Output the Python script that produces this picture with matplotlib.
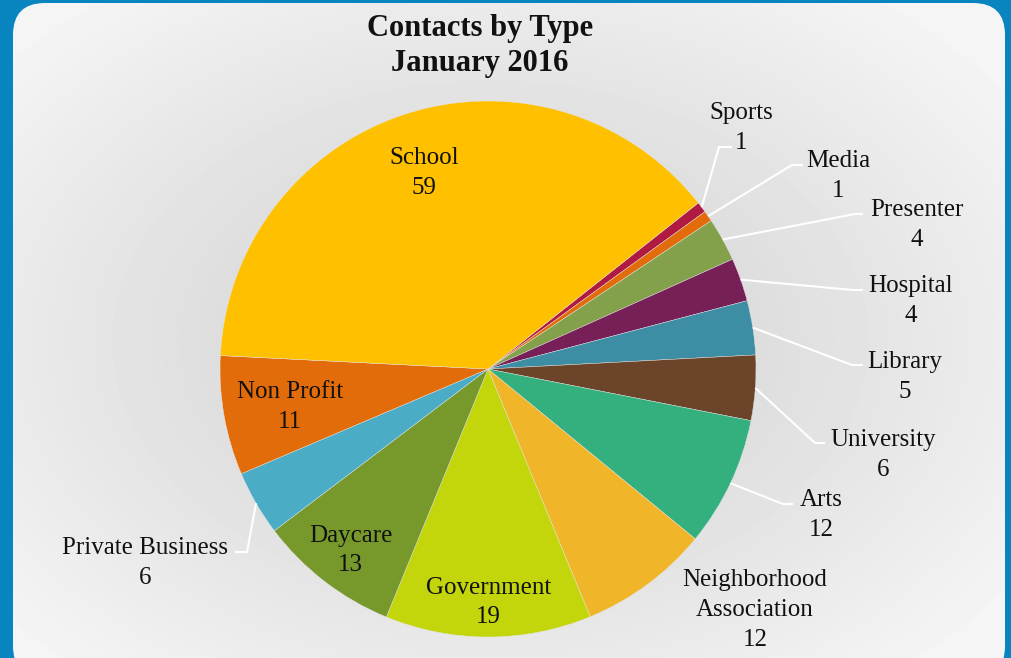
import numpy as np
import matplotlib
matplotlib.use('Agg')
import matplotlib.pyplot as plt
from matplotlib.patches import FancyBboxPatch

# data (clockwise from the top-right small slices)
types = ['Sports', 'Media', 'Presenter', 'Hospital', 'Library', 'University', 'Arts',
         'Neighborhood\nAssociation', 'Government', 'Daycare', 'Private Business',
         'Non Profit', 'School']
counts = [1, 1, 4, 4, 5, 6, 12, 12, 19, 13, 6, 11, 59]
colors = ['#B01A42', '#E36C0A', '#83A04B', '#772058', '#3D8DA4', '#6B4429', '#34B07F',
          '#F1B52A', '#C3D60B', '#77982A', '#4BACC6', '#E36C0A', '#FFC000']

W, H = 1012, 658
BLUE = '#0884BE'
FONT = 'Liberation Serif'

# label layout in pixels (from top-left); inside labels use a radius fraction
inside = {'School': 0.78, 'Non Profit': 0.75, 'Daycare': 0.84, 'Government': 0.86}
outside = {
    'Sports': ((741, 128), (719, 147), (732, 147)),
    'Media': ((838, 176), (792, 165), (803, 165)),
    'Presenter': ((917, 225), (855, 214), (863, 214)),
    'Hospital': ((911, 301), (853, 290), (863, 290)),
    'Library': ((905, 377), (852, 365), (863, 365)),
    'University': ((883, 455), (815, 443), (825, 443)),
    'Arts': ((821, 515), (783, 504), (793, 504)),
    'Neighborhood\nAssociation': ((755, 610), None, None),
    'Private Business': ((145, 563), (247, 552), (235, 552)),
}

cx, cy, R = 488, H - 369, 268

fig = plt.figure(figsize=(W / 100, H / 100), dpi=100)
fig.patch.set_facecolor(BLUE)
ax = fig.add_axes([0, 0, 1, 1])

# rounded panel with a soft radial gradient
yy, xx = np.mgrid[0:H, 0:W]
d = np.hypot((xx - 490) / 640.0, (yy - 340) / 440.0)
grad = 0.82 + 0.14 * np.clip(d, 0, 1) ** 1.2
im = ax.imshow(grad, cmap='gray', vmin=0, vmax=1, extent=(0, W, 0, H), origin='upper',
               interpolation='bilinear', zorder=0)
panel_clip = FancyBboxPatch((13, -20), 992, H - 3 + 20, boxstyle='round,pad=0,rounding_size=32',
                            facecolor='none', edgecolor='none', transform=ax.transData)
im.set_clip_path(panel_clip)

wedges, _ = ax.pie(counts, colors=colors, startangle=38.3, counterclock=False,
                   center=(cx, cy), radius=R,
                   wedgeprops=dict(linewidth=0.3, edgecolor='#e6e6e6'))
for w in wedges:
    w.set_zorder(2)

for w, name, n in zip(wedges, types, counts):
    mid = np.deg2rad((w.theta1 + w.theta2) / 2)
    txt = f'{name}\n{n}'
    if name in inside:
        f = inside[name]
        ax.text(cx + f * R * np.cos(mid), cy + f * R * np.sin(mid) - 3, txt, ha='center',
                va='center', fontsize=18, family=FONT, color='#111111', zorder=4,
                linespacing=1.45)
        continue
    (tx, ty), elbow, end = outside[name]
    ax.text(tx, H - ty, txt, ha='center', va='center', fontsize=18, family=FONT,
            color='#111111', zorder=4, linespacing=1.45)
    if elbow is not None:
        sx, sy = cx + R * np.cos(mid), cy + R * np.sin(mid)
        ax.plot([sx, elbow[0], end[0]], [sy, H - elbow[1], H - end[1]], color='white',
                lw=1.5, zorder=3, solid_capstyle='butt')

ax.text(480, H - 46, 'Contacts by Type\nJanuary 2016', ha='center', va='center',
        fontsize=22, fontweight='bold', family=FONT, color='#111111', linespacing=1.3)

ax.set_xlim(0, W)
ax.set_ylim(0, H)
ax.set_aspect('auto')
ax.axis('off')

plt.savefig('out.png', dpi=100, facecolor=BLUE)
plt.close()
